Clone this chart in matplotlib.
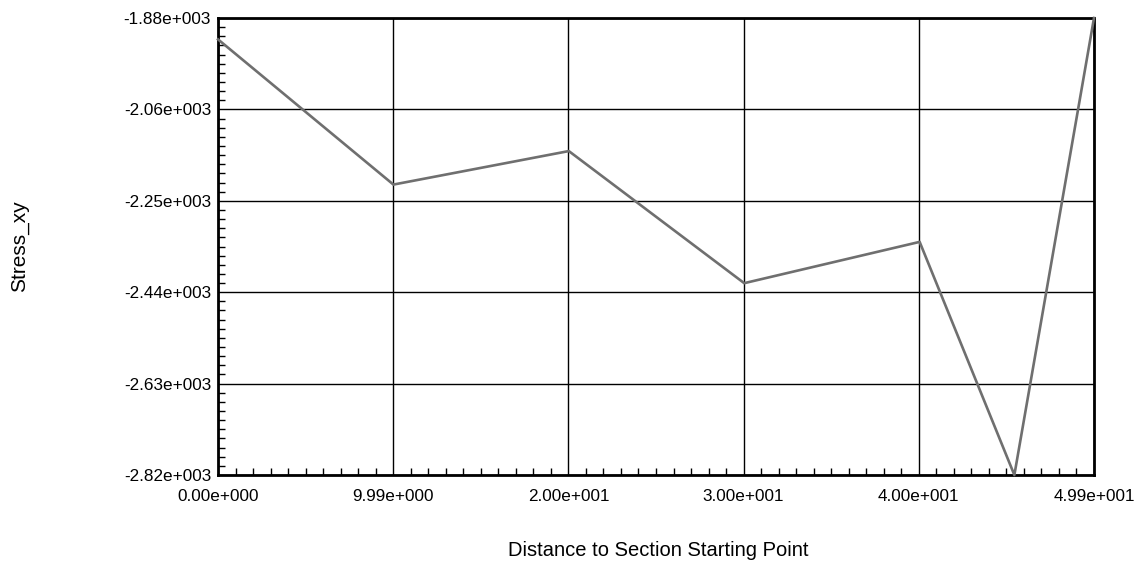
import numpy as np
import matplotlib
matplotlib.use("Agg")
import matplotlib.pyplot as plt
from matplotlib.ticker import FuncFormatter, FixedLocator, AutoMinorLocator

# distance along section, stress values
distance = [0.0, 10.0, 20.0, 30.0, 40.0, 45.4, 49.94]
stress_xy = [-1920, -2219, -2150, -2422, -2337, -2817, -1876]

OUT = "out.png"


def sci3(v, pos=None):
    # 1.23e+003 style, three-digit exponent
    s = f"{v:.2e}"
    mant, exp = s.split("e")
    return f"{mant}e{exp[0]}{int(exp[1:]):03d}"


def main():
    plt.rcParams["font.family"] = ["Liberation Sans", "DejaVu Sans"]
    fig = plt.figure(figsize=(11.41, 5.67), dpi=100)
    fig.patch.set_facecolor("white")
    ax = fig.add_axes([218 / 1141, 1 - 475 / 567, 876 / 1141, 457 / 567])

    ax.plot(distance, stress_xy, color="#6f6f6f", lw=1.9, clip_on=False, zorder=3)

    xmin, xmax = min(distance), max(distance)
    ymin, ymax = min(stress_xy), max(stress_xy)
    ax.set_xlim(xmin, xmax)
    ax.set_ylim(ymin, ymax)

    ax.xaxis.set_major_locator(FixedLocator(np.linspace(xmin, xmax, 6)))
    ax.yaxis.set_major_locator(FixedLocator(np.linspace(ymin, ymax, 6)))
    ax.xaxis.set_minor_locator(AutoMinorLocator(10))
    ax.yaxis.set_minor_locator(AutoMinorLocator(10))
    ax.xaxis.set_major_formatter(FuncFormatter(sci3))
    ax.yaxis.set_major_formatter(FuncFormatter(sci3))

    ax.grid(True, which="major", color="black", lw=1.0)
    ax.tick_params(which="major", length=0, labelsize=12.3, colors="black")
    ax.tick_params(axis="y", which="major", pad=5)
    ax.tick_params(axis="x", which="major", pad=10)
    ax.tick_params(which="minor", direction="in", length=5, width=1, color="black",
                   left=True, bottom=True, top=False, right=False)

    for sp in ax.spines.values():
        sp.set_linewidth(2)
        sp.set_color("black")

    fig.text(20 / 1141, 1 - 246 / 567, "Stress_xy", rotation=90,
             ha="center", va="center", fontsize=15)
    fig.text(658 / 1141, 1 - 550 / 567, "Distance to Section Starting Point",
             ha="center", va="center", fontsize=14.5)

    fig.savefig(OUT, dpi=100, facecolor="white")
    plt.close(fig)


if __name__ == "__main__":
    main()
